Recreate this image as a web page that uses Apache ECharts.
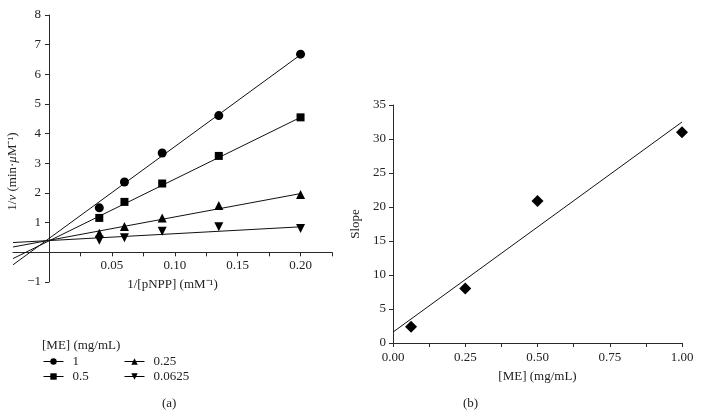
<!DOCTYPE html>
<html>
<head>
<meta charset="utf-8">
<script src="https://cdn.jsdelivr.net/npm/echarts@6/dist/echarts.min.js"></script>
<style>
html,body{margin:0;padding:0;background:#fff;}
#c{width:702px;height:415px;}
</style>
</head>
<body>
<div id="c"></div>
<script>
// ---- Panel (a): Lineweaver-Burk data ----
const invSubstrate = [0.04, 0.06, 0.09, 0.135, 0.2];
const me1 = [1.50, 2.37, 3.35, 4.61, 6.68];
const me05 = [1.16, 1.70, 2.32, 3.25, 4.55];
const me025 = [0.64, 0.87, 1.16, 1.58, 1.95];
const me00625 = [0.41, 0.49, 0.71, 0.86, 0.80];
const seriesNames = ['1', '0.5', '0.25', '0.0625'];
// fitted line end points: [x, y]
const fit1 = [[-0.0286, -0.42], [0.2, 6.66]];
const fit05 = [[-0.0286, -0.21], [0.2, 4.55]];
const fit025 = [[-0.0286, 0.18], [0.2, 1.98]];
const fit00625 = [[-0.0286, 0.33], [0.2, 0.86]];
const xTicksA = [0.025, 0.05, 0.075, 0.1, 0.125, 0.15, 0.175, 0.2, 0.225];
const xLabelsA = [0.05, 0.1, 0.15, 0.2];

// ---- Panel (b): replot of slopes ----
const meConc = [0.0625, 0.25, 0.5, 1.0];
const slopes = [2.4, 8.0, 20.9, 31.0];
const fitB = [[0, 1.6], [1.0, 32.5]];
const xTicksB = [0, 0.125, 0.25, 0.375, 0.5, 0.625, 0.75, 0.875, 1.0];

const FONT = 'Liberation Serif';
const AX = '#2a2a2a';

function pts(xs, ys) { return xs.map((x, i) => [x, ys[i]]); }

const chart = echarts.init(document.getElementById('c'), null, {renderer: 'canvas'});

const markerSeries = (name, ys, symbol, rotate, size) => ({
  name: name, type: 'line', xAxisIndex: 0, yAxisIndex: 0,
  data: pts(invSubstrate, ys),
  symbol: symbol, symbolRotate: rotate, symbolSize: size, showSymbol: true,
  itemStyle: {color: '#000', opacity: 1},
  lineStyle: {width: 0, opacity: 0},
  z: 3, silent: true
});
const fitSeries = (name, d) => ({
  name: name, type: 'line', xAxisIndex: 0, yAxisIndex: 0,
  data: d, showSymbol: false, symbol: 'none',
  lineStyle: {color: '#111', width: 1}, z: 2, silent: true
});

const legendCommon = {
  orient: 'vertical', itemWidth: 20, itemHeight: 8, itemGap: 2,
  textStyle: {fontFamily: FONT, fontSize: 13, color: '#222', padding: [0, 0, 0, 4]},
  lineStyle: {color: '#000', width: 1, opacity: 1, type: 'solid'},
  itemStyle: {color: '#000'},
  selectedMode: false
};

// panel (a) grid geometry; axes are moved inward onto x=0 / y=0 with offset
const gridA = {left: 13, right: 370, top: 15, bottom: 133};
const xMinA = -0.0286, xMaxA = 0.225, yMinA = -1, yMaxA = 8;
const plotW = 702 - gridA.left - gridA.right, plotH = 415 - gridA.top - gridA.bottom;
const yAxisOffset = -((0 - xMinA) / (xMaxA - xMinA) * plotW);
const xAxisOffset = -((0 - yMinA) / (yMaxA - yMinA) * plotH);

const nameStyle = {fontFamily: FONT, fontSize: 13, color: '#222'};

const option = {
  animation: false,
  backgroundColor: '#fff',
  textStyle: {fontFamily: FONT},
  title: [
    {text: '[ME] (mg/mL)', left: 37, top: 334, textStyle: {fontFamily: FONT, fontSize: 13, fontWeight: 'normal', color: '#222'}},
    {text: '(a)', left: 157, top: 392, textStyle: {fontFamily: FONT, fontSize: 13, fontWeight: 'normal', color: '#222'}},
    {text: '(b)', left: 458, top: 392, textStyle: {fontFamily: FONT, fontSize: 13, fontWeight: 'normal', color: '#222'}}
  ],
  legend: [
    Object.assign({}, legendCommon, {data: [seriesNames[0], seriesNames[1]], left: 38, top: 350}),
    Object.assign({}, legendCommon, {data: [seriesNames[2], seriesNames[3]], left: 119, top: 350})
  ],
  grid: [
    Object.assign({containLabel: false, outerBoundsMode: 'none'}, gridA),
    {left: 393, right: 20, top: 105, bottom: 72, containLabel: false, outerBoundsMode: 'none'}
  ],
  xAxis: [
    {
      type: 'value', gridIndex: 0, min: xMinA, max: xMaxA, offset: xAxisOffset,
      name: '1/[pNPP] (mM⁻¹)', nameLocation: 'middle', nameGap: 26, nameMoveOverlap: false,
      nameTextStyle: nameStyle,
      axisLine: {onZero: false, lineStyle: {color: AX, width: 1}},
      axisTick: {show: true, customValues: xTicksA, length: 4, lineStyle: {color: AX}},
      axisLabel: {customValues: xLabelsA, margin: 7, fontFamily: FONT, fontSize: 13, color: '#222',
        formatter: v => v.toFixed(2)},
      splitLine: {show: false}
    },
    {
      type: 'value', gridIndex: 1, min: 0, max: 1, interval: 0.25,
      name: '[ME] (mg/mL)', nameLocation: 'middle', nameGap: 27,
      nameTextStyle: nameStyle,
      axisLine: {lineStyle: {color: AX, width: 1}},
      axisTick: {show: true, customValues: xTicksB, length: 4, lineStyle: {color: AX}},
      axisLabel: {margin: 8, fontFamily: FONT, fontSize: 13, color: '#222', formatter: v => v.toFixed(2)},
      splitLine: {show: false}
    }
  ],
  yAxis: [
    {
      type: 'value', gridIndex: 0, min: yMinA, max: yMaxA, interval: 1, offset: yAxisOffset,
      name: '1/{i|v} (min·{i|μ}M⁻¹)', nameLocation: 'middle', nameGap: 30, nameMoveOverlap: false,
      nameTextStyle: Object.assign({}, nameStyle, {
        padding: [0, 46, 0, 0],
        rich: {i: {fontFamily: FONT, fontSize: 13, color: '#222', fontStyle: 'italic'}}
      }),
      axisLine: {onZero: false, lineStyle: {color: AX, width: 1}},
      axisTick: {show: true, length: 4, lineStyle: {color: AX}},
      axisLabel: {margin: 8, fontFamily: FONT, fontSize: 13, color: '#222',
        formatter: v => v === 0 ? '' : (v < 0 ? '−' + Math.abs(v) : String(v))},
      splitLine: {show: false}
    },
    {
      type: 'value', gridIndex: 1, min: 0, max: 35, interval: 5,
      name: 'Slope', nameLocation: 'middle', nameGap: 31,
      nameTextStyle: nameStyle,
      axisLine: {lineStyle: {color: AX, width: 1}},
      axisTick: {show: true, length: 4, lineStyle: {color: AX}},
      axisLabel: {margin: 7, fontFamily: FONT, fontSize: 13, color: '#222'},
      splitLine: {show: false}
    }
  ],
  series: [
    fitSeries('fit-1', fit1),
    fitSeries('fit-0.5', fit05),
    fitSeries('fit-0.25', fit025),
    fitSeries('fit-0.0625', fit00625),
    markerSeries(seriesNames[0], me1, 'circle', 0, 9),
    markerSeries(seriesNames[1], me05, 'rect', 0, 8),
    markerSeries(seriesNames[2], me025, 'triangle', 0, 9),
    markerSeries(seriesNames[3], me00625, 'triangle', 180, 9),
    {
      name: 'fit-b', type: 'line', xAxisIndex: 1, yAxisIndex: 1,
      data: fitB, showSymbol: false, symbol: 'none',
      lineStyle: {color: '#111', width: 1}, z: 2, silent: true
    },
    {
      name: 'Slope', type: 'scatter', xAxisIndex: 1, yAxisIndex: 1,
      data: pts(meConc, slopes), symbol: 'diamond', symbolSize: 12,
      itemStyle: {color: '#000', opacity: 1}, z: 3, silent: true
    }
  ]
};
chart.setOption(option);
</script>
</body>
</html>
